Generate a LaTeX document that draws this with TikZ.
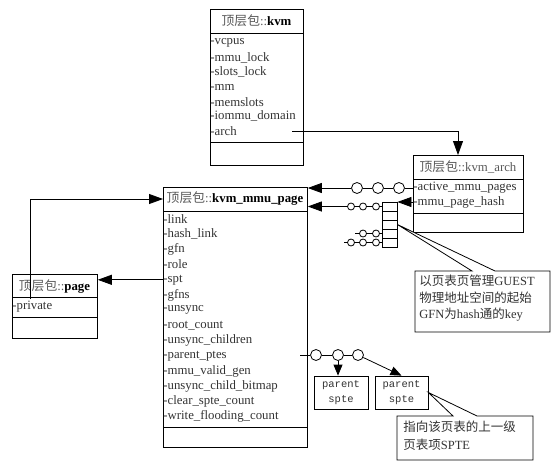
\documentclass[tikz,border=0pt]{standalone}
\usepackage{fontspec}
\setmainfont{Liberation Serif}
\setmonofont{Liberation Mono}
\newfontfamily\cjk{Noto Sans CJK SC}
\usetikzlibrary{calc,arrows.meta}
\newcommand{\pkg}{{\cjk 顶层包}::}
% name, x, y, width, height, title line, attribute line (from top)
\newcommand{\umlbox}[7]{\node[box,minimum width=#4pt,minimum height=#5pt,anchor=north west] (#1) at (#2,#3) {};
  \draw ($(#1.north west)+(0,#6)$) -- ($(#1.north east)+(0,#6)$);
  \draw ($(#1.north west)+(0,#7)$) -- ($(#1.north east)+(0,#7)$);}
\tikzset{
  box/.style={draw,inner sep=0pt},
  attr/.style={anchor=west,inner sep=0pt,font=\fontsize{12.8}{14}\selectfont,text=black!80},
  ttl/.style={inner sep=0pt,font=\fontsize{12.8}{14}\selectfont,text=black!65},
  ring/.style={circle,draw,fill=white,inner sep=0pt,minimum size=11pt},
  sring/.style={circle,draw,fill=white,inner sep=0pt,minimum size=7pt},
  cell/.style={draw,inner sep=0pt,minimum width=15pt,minimum height=9pt},
  sptebox/.style={draw,inner sep=0pt,align=center,font=\ttfamily\fontsize{10.5}{15}\selectfont,text=black!80},
  note/.style={anchor=north west,inner sep=0pt,align=left,text=black!80},
  tip/.style={-{Triangle[length=14pt,width=10pt]}},
  stip/.style={-{Triangle[length=11pt,width=9pt]}},
}
\begin{document}
\begin{tikzpicture}[x=1pt,y=-1pt,line width=0.8pt]
  \useasboundingbox (0,0) rectangle (556,471);

  % kvm
  \umlbox{kvm}{210}{9}{93}{156}{24}{133}
  \node[ttl] (kvm-t) at (256.5,21) {\pkg\textcolor{black}{\textbf{kvm}}};
  \foreach \t [count=\i] in {vcpus,mmu\_lock,slots\_lock,mm,memslots,iommu\_domain,arch}
    \node[attr] (kvm-\i) at (210,{43+14.67*(\i-1)}) {-\t};

  % kvm_arch
  \umlbox{karch}{413}{155}{110}{77}{24}{58}
  \node[ttl] (karch-t) at (468,167) {\pkg kvm\_arch};
  \node[attr] (karch-1) at (413,188) {-active\_mmu\_pages};
  \node[attr] (karch-2) at (413,202) {-mmu\_page\_hash};

  % kvm_mmu_page
  \umlbox{mmu}{163}{187}{144}{260}{24}{240}
  \node[ttl] (mmu-t) at (235,199) {\pkg\textcolor{black}{\textbf{kvm\_mmu\_page}}};
  \foreach \t [count=\i] in {link,hash\_link,gfn,role,spt,gfns,unsync,root\_count,unsync\_children,parent\_ptes,mmu\_valid\_gen,unsync\_child\_bitmap,clear\_spte\_count,write\_flooding\_count}
    \node[attr] (mmu-\i) at (163,{219+15.2*(\i-1)}) {-\t};

  % page
  \umlbox{page}{12}{274}{85}{64}{23}{43}
  \node[ttl] (page-t) at (54.5,286) {\pkg\textcolor{black}{\textbf{page}}};
  \node[attr] (page-1) at (12,307) {-private};

  % arch -> kvm_arch
  \coordinate (archout) at (292,131);
  \coordinate (archin) at (458,155);
  \draw[tip] (archout) -| (archin);

  % active_mmu_pages
  \node[ring] (a1) at (399,188) {};
  \node[ring] (a2) at (378,188) {};
  \node[ring] (a3) at (357,188) {};
  \draw (karch-1.west) -- (a1) -- (a2) -- (a3);
  \draw[tip] (a3) -- (a3 -| mmu.east);

  % mmu_page_hash
  \foreach \i in {0,...,4}
    \node[cell] (h\i) at (389.5,{206.5+9*\i}) {};
  \draw[tip] (karch-2.west) -- (karch-2.west -| h0.east);

  \node[sring] (b1) at (376,206.5) {};
  \node[sring] (b2) at (363,206.5) {};
  \node[sring] (b3) at (351,206.5) {};
  \draw (h0.west) -- (b1) -- (b2) -- (b3);
  \draw[tip] (b3) -- (b3 -| mmu.east);

  \node[sring] (c1) at (376,233.5) {};
  \node[sring] (c2) at (363,233.5) {};
  \coordinate (c3) at (355,233.5);
  \draw (h3.west) -- (c1) -- (c2) -- (c3);

  \node[sring] (d1) at (376,242.5) {};
  \node[sring] (d2) at (363,242.5) {};
  \node[sring] (d3) at (351,242.5) {};
  \coordinate (d4) at (344,242.5);
  \draw (h4.west) -- (d1) -- (d2) -- (d3) -- (d4);

  \draw[fill=white] (h2.east) -- (472,271) -- (415,271) -- (415,332) -- (550,332) -- (550,271) -- (495,271) -- cycle;
  \node[note,font=\fontsize{12.5}{16.5}\selectfont] (note1) at (419,275)
    {{\cjk 以页表页管理}GUEST\\{\cjk 物理地址空间的起始}\\GFN{\cjk 为}hash{\cjk 通的}key};

  % spt -> page, private -> kvm_mmu_page
  \draw[tip] (mmu-5.west) -- (mmu-5.west -| page.east);
  \coordinate (privout) at (30,299);
  \draw[tip] (privout) |- (mmu-t -| mmu.west);

  % parent_ptes
  \coordinate (ptesout) at (300,355);
  \node[ring] (p1) at (316,355) {};
  \node[ring] (p2) at (338,355) {};
  \node[ring] (p3) at (358,355) {};
  \draw (ptesout) -- (p1) -- (p2) -- (p3);
  \node[sptebox,minimum width=54pt,minimum height=33pt] (s1) at (341,392.5) {parent\\spte};
  \node[sptebox,minimum width=53pt,minimum height=33pt] (s2) at (401.5,392.5) {parent\\spte};
  \draw[stip] (p2) -- (p2 |- s1.north);
  \draw[stip] (p3) -- (s2.north);

  \draw[fill=white] (s2.east) -- (453,416) -- (397,416) -- (397,460) -- (533,460) -- (533,416) -- (477,416) -- cycle;
  \node[note,font=\fontsize{12.5}{18}\selectfont] (note2) at (403,421)
    {{\cjk 指向该页表的上一级}\\{\cjk 页表项}SPTE};
\end{tikzpicture}
\end{document}
